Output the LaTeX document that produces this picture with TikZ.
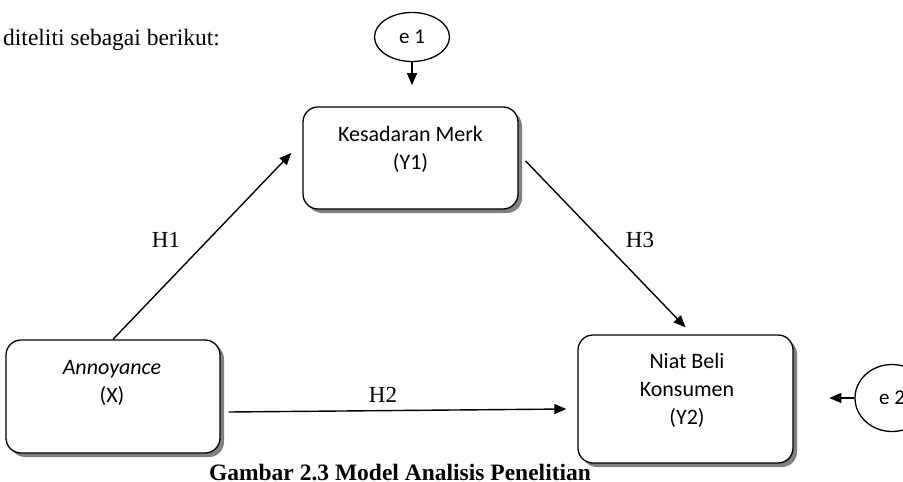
\documentclass[tikz,border=0pt]{standalone}
\usepackage{fontspec}
\setmainfont{Liberation Serif}
\newfontfamily\calib{Carlito}
\usetikzlibrary{shapes.geometric,shadows,arrows.meta,calc}
\begin{document}
\begin{tikzpicture}[x=1pt,y=-1pt,
  varbox/.style={draw=black, line width=1.3pt, rounded corners=15pt, fill=white,
    drop shadow={shadow xshift=4pt, shadow yshift=-4pt, fill=black!50, opacity=1},
    inner sep=0pt},
  btext/.style={font=\calib\fontsize{22}{28}\selectfont, align=center, inner sep=0pt},
  errnode/.style={draw=black, line width=1.3pt, ellipse, inner sep=0pt, fill=white,
    font=\calib\fontsize{21}{25}\selectfont},
  conn/.style={line width=1.4pt, -{Triangle[length=12pt,width=10pt]}},
  hyp/.style={font=\fontsize{23}{27}\selectfont, inner sep=0pt},
  plain/.style={font=\fontsize{23.5}{28}\selectfont, inner sep=0pt}
]
\useasboundingbox (0,0) rectangle (903,482);

% boxes
\node[varbox, minimum width=215pt, minimum height=102pt] (y1) at (410.5,158) {};
\node[btext] (y1t) at (410.5,149) {Kesadaran Merk\\(Y1)};

\node[varbox, minimum width=214pt, minimum height=113pt] (x1) at (113,396.5) {};
\node[btext] (x1t) at (112,382.5) {\itshape Annoyance\\(X)};

\node[varbox, minimum width=215pt, minimum height=128pt] (y2) at (685.5,399) {};
\node[btext] (y2t) at (687,390.5) {Niat Beli\\Konsumen\\(Y2)};

% error terms
\node[errnode, minimum width=75pt, minimum height=49pt] (e1) at (412,37) {e 1};
\node[errnode, minimum width=74pt, minimum height=67pt] (e2) at (892,398) {e 2};

% connector end points
\coordinate (e1tip) at ($(e1.south)+(0,23)$);
\coordinate (e2tip) at ($(e2.west)+(-25,0)$);
\coordinate (h1s) at (x1.north);
\coordinate (h1e) at ($(y1.west)+(-11,-5)$);
\coordinate (h3s) at ($(y1.east)+(7,3)$);
\coordinate (h3e) at ($(y2.north)+(0,-7)$);
\coordinate (h2s) at ($(x1.east)+(8,15.5)$);
\coordinate (h2e) at ($(y2.west)+(-11,10)$);

\draw[conn] (e1.south) -- (e1tip);
\draw[conn] (e2.west) -- (e2tip);
\draw[conn] (h1s) -- (h1e);
\draw[conn] (h3s) -- (h3e);
\draw[conn] (h2s) -- (h2e);

% hypothesis labels
\node[hyp] (lh1) at (166,240) {H1};
\node[hyp] (lh2) at (383,395) {H2};
\node[hyp] (lh3) at (640,240) {H3};

% texts
\node[plain, anchor=base west] (intro) at (3,45) {diteliti sebagai berikut:};
\node[plain, anchor=base, font=\bfseries\fontsize{23.5}{28}\selectfont] (cap) at (400,480) {Gambar 2.3 Model Analisis Penelitian};
\end{tikzpicture}
\end{document}
